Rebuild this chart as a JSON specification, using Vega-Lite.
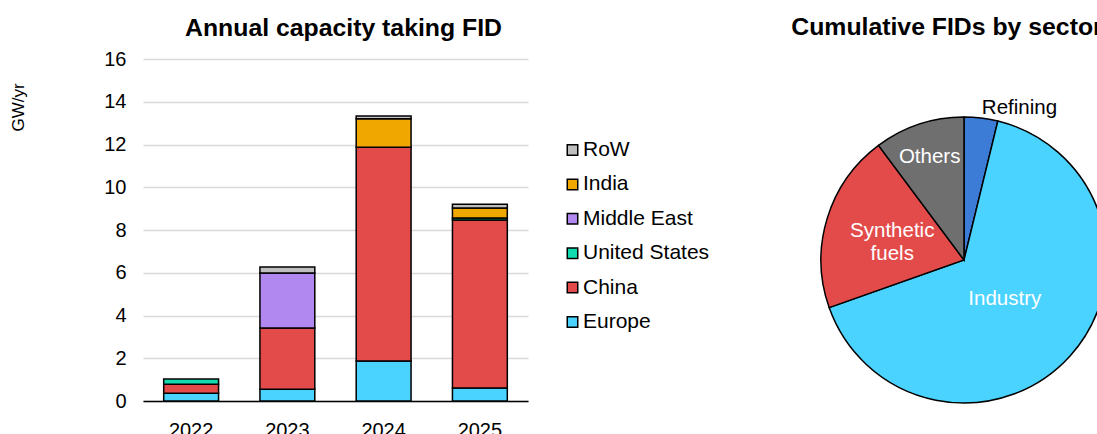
{
  "$schema": "https://vega.github.io/schema/vega-lite/v6.json",
  "padding": {"left": 9, "top": 15, "right": 0, "bottom": 0},
  "config": {
    "font": "Liberation Sans",
    "view": {"stroke": null},
    "concat": {"spacing": 81},
    "title": {"fontSize": 24.8, "fontWeight": "bold", "color": "black", "anchor": "middle", "frame": "group"}
  },
  "datasets": {
    "bars": [
      {"year": "2022", "region": "Europe", "value": 0.36},
      {"year": "2022", "region": "China", "value": 0.42},
      {"year": "2022", "region": "United States", "value": 0.25},
      {"year": "2023", "region": "Europe", "value": 0.55},
      {"year": "2023", "region": "China", "value": 2.87},
      {"year": "2023", "region": "Middle East", "value": 2.57},
      {"year": "2023", "region": "RoW", "value": 0.28},
      {"year": "2024", "region": "Europe", "value": 1.87},
      {"year": "2024", "region": "China", "value": 10.0},
      {"year": "2024", "region": "India", "value": 1.33},
      {"year": "2024", "region": "RoW", "value": 0.13},
      {"year": "2025", "region": "Europe", "value": 0.61},
      {"year": "2025", "region": "China", "value": 7.86},
      {"year": "2025", "region": "United States", "value": 0.09},
      {"year": "2025", "region": "India", "value": 0.47},
      {"year": "2025", "region": "RoW", "value": 0.17}
    ],
    "pie": [
      {"sector": "Refining", "share": 3.8},
      {"sector": "Industry", "share": 65.8},
      {"sector": "Synthetic fuels", "share": 20.2},
      {"sector": "Others", "share": 10.2}
    ]
  },
  "hconcat": [
    {
      "width": 385,
      "height": 342,
      "title": {"text": "Annual capacity taking FID", "dx": 8, "offset": 8},
      "data": {"name": "bars"},
      "transform": [
        {"calculate": "indexof(['Europe','China','United States','Middle East','India','RoW'], datum.region)", "as": "stackOrder"}
      ],
      "mark": {"type": "bar", "stroke": "black", "strokeWidth": 1.5},
      "encoding": {
        "x": {
          "field": "year", "type": "nominal",
          "scale": {"paddingInner": 0.43, "paddingOuter": 0.215},
          "axis": {"title": null, "labelAngle": 0, "labelFontSize": 20, "labelColor": "black", "ticks": false, "domainColor": "black", "domainWidth": 1.5, "labelPadding": 19}
        },
        "y": {
          "field": "value", "type": "quantitative", "stack": "zero",
          "scale": {"domain": [0, 16]},
          "axis": {
            "title": "GW/yr", "values": [0, 2, 4, 6, 8, 10, 12, 14, 16],
            "domain": false, "ticks": false, "gridColor": "#D9D9D9", "gridWidth": 1.5,
            "labelFontSize": 20, "labelColor": "black", "labelPadding": 17,
            "titleFontSize": 17, "titleFontWeight": "normal", "titleColor": "black",
            "titleAngle": -90, "titleX": -125, "titleY": 48, "titleAlign": "center", "titleBaseline": "middle"
          }
        },
        "color": {
          "field": "region", "type": "nominal",
          "scale": {
            "domain": ["RoW", "India", "Middle East", "United States", "China", "Europe"],
            "range": ["#BFBFBF", "#F0A800", "#B088F0", "#10DCB0", "#E34B4B", "#4AD3FF"]
          },
          "legend": {
            "title": null, "orient": "none", "legendX": 419, "legendY": 80.5,
            "symbolType": "square", "symbolSize": 110, "symbolStrokeColor": "black", "symbolStrokeWidth": 1.5,
            "labelFontSize": 21, "labelColor": "black", "labelOffset": 0, "rowPadding": 12.4
          }
        },
        "order": {"field": "stackOrder", "type": "quantitative"}
      }
    },
    {
      "width": 320,
      "height": 402,
      "title": {"text": "Cumulative FIDs by sector", "dx": -17, "offset": 19},
      "data": {"name": "pie"},
      "transform": [
        {"calculate": "indexof(['Refining','Industry','Synthetic fuels','Others'], datum.sector)", "as": "ord"}
      ],
      "encoding": {
        "theta": {"field": "share", "type": "quantitative", "stack": true},
        "order": {"field": "ord", "type": "quantitative"}
      },
      "layer": [
        {
          "mark": {"type": "arc", "radius": 143, "stroke": "black", "strokeWidth": 1.5},
          "encoding": {
            "color": {
              "field": "sector", "type": "nominal",
              "scale": {"domain": ["Refining", "Industry", "Synthetic fuels", "Others"], "range": ["#3C7BD6", "#4AD3FF", "#E34B4B", "#6F6F6F"]},
              "legend": null
            }
          }
        },
        {
          "mark": {"type": "text", "radius": 155, "dx": 37, "dy": 2, "fontSize": 20.5, "color": "black"},
          "encoding": {
            "detail": {"field": "sector"},
            "text": {"condition": {"test": "datum.sector === 'Refining'", "field": "sector"}, "value": ""}
          }
        },
        {
          "mark": {"type": "text", "radius": 109, "fontSize": 20.5, "color": "white"},
          "encoding": {
            "detail": {"field": "sector"},
            "text": {"condition": {"test": "datum.sector === 'Others'", "field": "sector"}, "value": ""}
          }
        },
        {
          "mark": {"type": "text", "radius": 75, "dy": -7, "fontSize": 20.5, "color": "white", "lineBreak": " ", "lineHeight": 23},
          "encoding": {
            "detail": {"field": "sector"},
            "text": {"condition": {"test": "datum.sector === 'Synthetic fuels'", "field": "sector"}, "value": ""}
          }
        },
        {
          "mark": {"type": "text", "radius": 55, "dx": 0, "dy": 2, "fontSize": 20.5, "color": "white"},
          "encoding": {
            "detail": {"field": "sector"},
            "text": {"condition": {"test": "datum.sector === 'Industry'", "field": "sector"}, "value": ""}
          }
        }
      ]
    }
  ],
  "resolve": {"scale": {"color": "independent", "theta": "independent"}, "legend": {"color": "independent"}}
}
